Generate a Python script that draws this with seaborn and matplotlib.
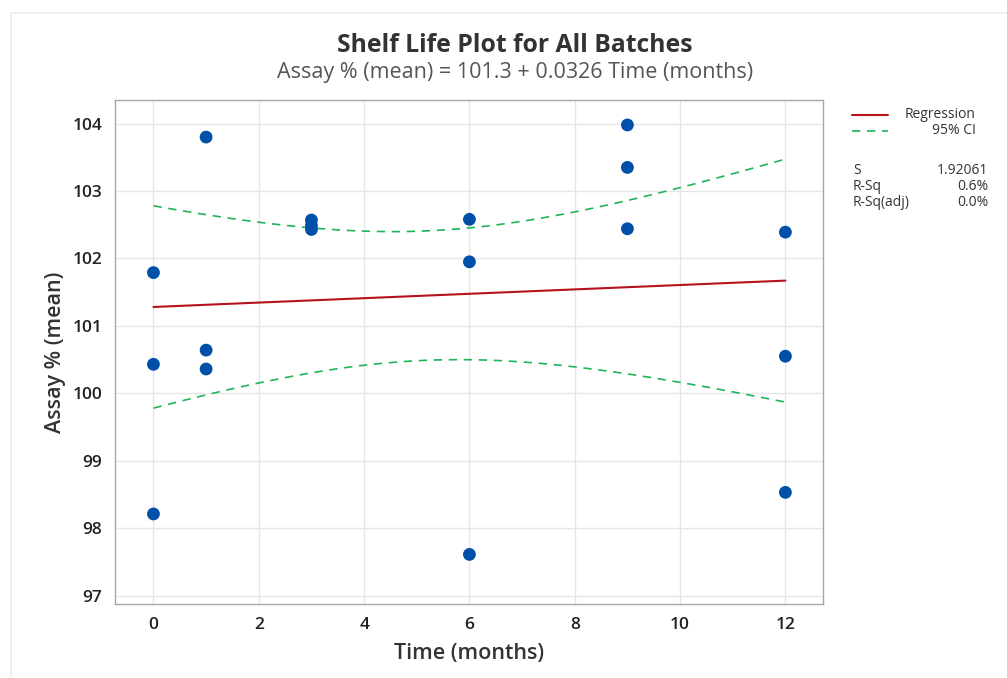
import numpy as np
import pandas as pd
import matplotlib
matplotlib.use("Agg")
import matplotlib.pyplot as plt
from matplotlib.patches import Rectangle
import seaborn as sns

# Assay results per batch at each stability time point
time_months = [0, 0, 0, 1, 1, 1, 3, 3, 3, 6, 6, 6, 9, 9, 9, 12, 12, 12]
assay_mean = [101.79, 100.43, 98.21,
              103.80, 100.64, 100.36,
              102.57, 102.49, 102.43,
              102.58, 101.95, 97.61,
              103.98, 103.35, 102.44,
              102.39, 100.55, 98.53]

# Fitted model summary
INTERCEPT = 101.28
SLOPE = 0.0326
S_VALUE = 1.92061
R_SQ = 0.6
R_SQ_ADJ = 0.0
T_CRIT = 2.119905  # t(0.975, n-2) for n = 18

x_ticks = [0, 2, 4, 6, 8, 10, 12]
y_ticks = [97, 98, 99, 100, 101, 102, 103, 104]

df = pd.DataFrame({"Time (months)": time_months, "Assay % (mean)": assay_mean})

# Regression line and 95% confidence band for the mean response
x = np.asarray(time_months, dtype=float)
n = len(x)
xbar = x.mean()
sxx = ((x - xbar) ** 2).sum()
grid = np.linspace(0, 12, 200)
fit = INTERCEPT + SLOPE * grid
half = T_CRIT * S_VALUE * np.sqrt(1.0 / n + (grid - xbar) ** 2 / sxx)
band = pd.DataFrame({"t": grid, "fit": fit, "lo": fit - half, "hi": fit + half})

sns.set_theme(style="whitegrid")
plt.rcParams["font.family"] = ["Open Sans", "DejaVu Sans"]

fig = plt.figure(figsize=(10.07, 6.78), dpi=100)
ax = fig.add_axes([0.1142, 0.1087, 0.7034, 0.7438])

# faint outer panel border
fig.patches.append(Rectangle((11 / 1007, -0.1), 1.2, 1 - 13 / 678 + 0.1,
                             transform=fig.transFigure, fill=False,
                             edgecolor="#ececec", linewidth=1.2, zorder=0))

red = "#b5121b"
green = "#1db45a"
blue = "#0050a8"

sns.lineplot(data=band, x="t", y="fit", ax=ax, color=red, linewidth=1.5,
             label="Regression", zorder=3)
sns.lineplot(data=band, x="t", y="hi", ax=ax, color=green, linewidth=1.2,
             linestyle=(0, (5, 4)), label="95% CI", zorder=3)
sns.lineplot(data=band, x="t", y="lo", ax=ax, color=green, linewidth=1.2,
             linestyle=(0, (5, 4)), zorder=3)
sns.scatterplot(data=df, x="Time (months)", y="Assay % (mean)", ax=ax,
                color=blue, s=85, edgecolor="none", zorder=4)
ax.get_legend().remove()

ax.set_xlim(-0.73, 12.72)
ax.set_ylim(96.87, 104.35)
ax.set_xticks(x_ticks)
ax.set_yticks(y_ticks)
ax.grid(True, color="#e6e6e6", linewidth=1.0)
for sp in ax.spines.values():
    sp.set_color("#a6a6a6")
    sp.set_linewidth(1.0)
ax.tick_params(axis="both", which="major", length=5, width=1.0, color="#a6a6a6",
               labelsize=12.5, labelcolor="#222222", pad=4)
for lab in ax.get_xticklabels() + ax.get_yticklabels():
    lab.set_fontweight("semibold")

ax.set_xlabel("Time (months)", fontsize=15.5, color="#333333",
              fontweight="semibold", labelpad=7)
ax.set_ylabel("Assay % (mean)", fontsize=15.5, color="#333333",
              fontweight="semibold", labelpad=5)

fig.text(0.511, 0.933, "Shelf Life Plot for All Batches", ha="center",
         va="center", fontsize=17.8, fontweight="bold", color="#333333")
fig.text(0.511, 0.893,
         f"Assay % (mean) = {INTERCEPT:.1f} + {SLOPE:.4f} Time (months)",
         ha="center", va="center", fontsize=15.5, color="#555555")

# legend and model summary panel
def fx(px):
    return px / 1007

def fy(py):
    return 1 - py / 678

fig.add_artist(plt.Line2D([fx(852), fx(888)], [fy(115), fy(115)], color=red,
                          linewidth=1.5))
fig.add_artist(plt.Line2D([fx(852), fx(888)], [fy(131), fy(131)], color=green,
                          linewidth=1.2, linestyle=(0, (5, 4))))
fig.text(fx(976), fy(115), "Regression", ha="right", va="center",
         fontsize=10, color="#333333")
fig.text(fx(976), fy(131), "95% CI", ha="right", va="center",
         fontsize=10, color="#333333")
stats = [("S", f"{S_VALUE:.5f}"), ("R-Sq", f"{R_SQ:.1f}%"),
         ("R-Sq(adj)", f"{R_SQ_ADJ:.1f}%")]
for i, (k, v) in enumerate(stats):
    yy = fy(170 + 16 * i)
    fig.text(fx(853), yy, k, ha="left", va="center", fontsize=10, color="#333333")
    fig.text(fx(988), yy, v, ha="right", va="center", fontsize=10, color="#333333")

fig.savefig("out.png", dpi=100)
